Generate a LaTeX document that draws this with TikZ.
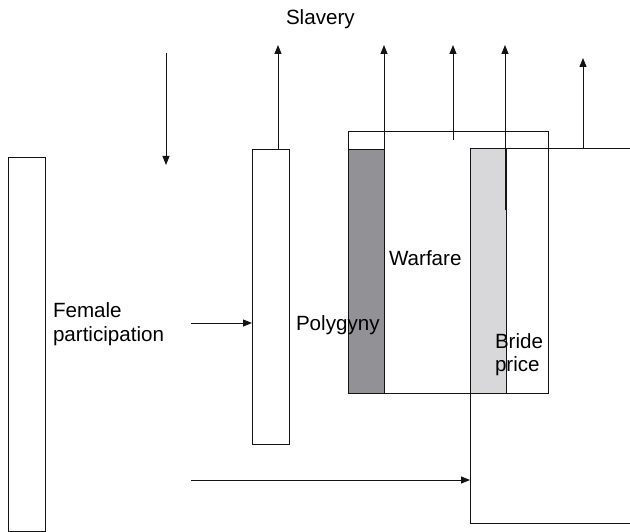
\documentclass[tikz,border=0pt]{standalone}
\usepackage{fontspec}
\setmainfont{Liberation Sans}
\usetikzlibrary{arrows.meta}
\definecolor{darkbar}{RGB}{146,146,150}
\definecolor{lightbar}{RGB}{216,216,218}
\definecolor{ln}{RGB}{20,20,20}
\tikzset{
  box/.style={draw=ln, line width=0.9pt, inner sep=0pt, outer sep=0pt, anchor=north west},
  arr/.style={draw=ln, line width=0.9pt, -{Triangle[length=9pt,width=7pt]}},
  ln/.style={draw=ln, line width=0.9pt},
  lbl/.style={inner sep=0pt, outer sep=0pt, font=\fontsize{20.6}{23.5}\selectfont}
}
\begin{document}
\begin{tikzpicture}[x=1pt,y=-1pt]
\useasboundingbox[fill=white] (0,0) rectangle (630,532);
% boxes
\node[box, minimum width=37pt, minimum height=374pt] (L) at (8,157) {};
\node[box, minimum width=37pt, minimum height=295pt] (P) at (252,149) {};
\node[box, minimum width=200pt, minimum height=262pt] (W) at (348,131) {};
\node[box, fill=darkbar, minimum width=36pt, minimum height=244pt] (D) at (348,149) {};
\node[box, fill=lightbar, minimum width=36pt, minimum height=245pt] (B) at (470,148) {};
% free ends
\coordinate (s1) at (166,53);
\coordinate (s1e) at (166,165);
\coordinate (tP) at (278,45);
\coordinate (tD) at (384,45);
\coordinate (bD) at (384,210);
\coordinate (tW) at (453,45);
\coordinate (bW) at (453,140);
\coordinate (tB) at (505,45);
\coordinate (bB) at (505,210);
\coordinate (rT) at (630,148);
\coordinate (tR) at (583,58);
\coordinate (bR) at (583,148);
\coordinate (cB) at (470,523);
\coordinate (rB) at (630,523);
\coordinate (fA) at (191,323);
\coordinate (fB) at (191,480);
% connectors
\draw[arr] (s1) -- (s1e);
\draw[arr] (P.north -| tP) -- (tP);
\draw[arr] (bD) -- (tD);
\draw[arr] (bW) -- (tW);
\draw[arr] (bB) -- (tB);
\draw[arr] (bR) -- (tR);
\draw[ln] (B.north east) -- (rT);
\draw[ln] (B.south west) -- (cB) -- (rB);
\draw[arr] (fA) -- (fA -| P.west);
\draw[arr] (fB) -- (fB -| cB);
% labels
\node[lbl, anchor=base west] (slav) at (286,25) {Slavery};
\node[lbl, anchor=north west, align=left] (fem) at (53,303) {Female\\participation};
\node[lbl, anchor=base west] (poly) at (296,330.5) {Polygyny};
\node[lbl, anchor=base west] (war) at (389,265.5) {Warfare};
\node[lbl, anchor=north west, align=left] (bride) at (495,333.5) {Bride\\price};
\end{tikzpicture}
\end{document}
